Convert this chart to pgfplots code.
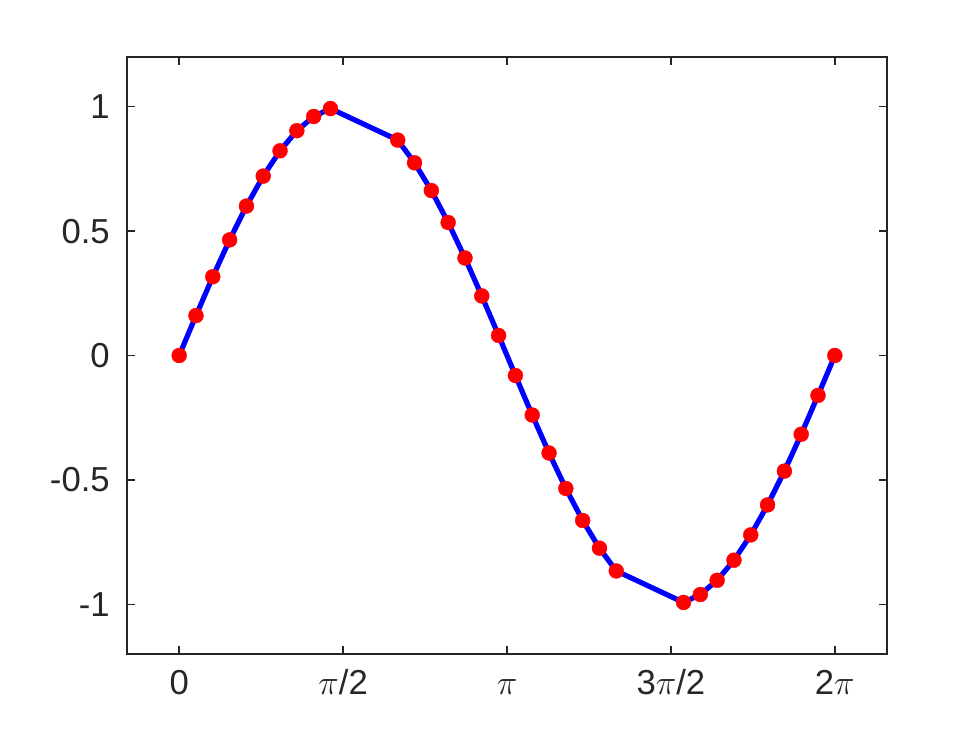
\RequirePackage{fix-cm}
\documentclass[border=0pt]{standalone}
\usepackage{fontspec}
\setmainfont{Liberation Sans}
\usepackage{pgfplots}
\usepackage{pgfplotstable}
\pgfplotsset{compat=1.18}
\pgfplotstableread{
x y
0.00000 0.00000
0.16111 0.16041
0.32221 0.31668
0.48332 0.46472
0.64443 0.60065
0.80554 0.72117
0.96664 0.82298
1.12775 0.90369
1.28886 0.96080
1.44997 0.99271
2.09440 0.86603
2.25550 0.77470
2.41661 0.66312
2.57772 0.53463
2.73882 0.39197
2.89993 0.23932
3.06104 0.08047
3.22215 -0.08047
3.38325 -0.23932
3.54436 -0.39197
3.70547 -0.53463
3.86658 -0.66312
4.02768 -0.77470
4.18879 -0.86603
4.83322 -0.99271
4.99433 -0.96080
5.15543 -0.90369
5.31654 -0.82298
5.47765 -0.72117
5.63876 -0.60065
5.79986 -0.46472
5.96097 -0.31668
6.12208 -0.16041
6.28319 0.00000
}\sindata
\definecolor{axgray}{rgb}{0.15,0.15,0.15}
\begin{document}
\begin{tikzpicture}
\useasboundingbox (-95.25pt,-60.75pt) rectangle (639.75pt,490.5pt);
\begin{axis}[
  at={(0,0)}, anchor=south west,
  scale only axis,
  width=570pt, height=447.75pt,
  xmin=-0.5, xmax=6.783185,
  ymin=-1.2, ymax=1.2,
  xtick={0,1.570796,3.141593,4.712389,6.283185},
  xticklabels={0,$\pi$/2,$\pi$,3$\pi$/2,2$\pi$},
  ytick={-1,-0.5,0,0.5,1},
  yticklabels={-1,-0.5,0,0.5,1},
  tick align=inside,
  major tick length=6pt,
  axis line style={draw=axgray, line width=1.1pt},
  every tick/.style={draw=axgray, line width=1.1pt},
  ticklabel style={font=\fontsize{26}{30}\selectfont, text=axgray, inner sep=0pt},
  xticklabel style={anchor=base, yshift=-30pt},
  yticklabel style={anchor=east, xshift=-12.75pt},
  clip=false,
]
\addplot[only marks, mark=*, mark size=5.6pt, mark options={fill=red, draw=red, line width=0.3pt}] table {\sindata};
\addplot[blue, line width=3.9pt, no marks, line join=round] table {\sindata};
\end{axis}
\end{tikzpicture}
\end{document}
